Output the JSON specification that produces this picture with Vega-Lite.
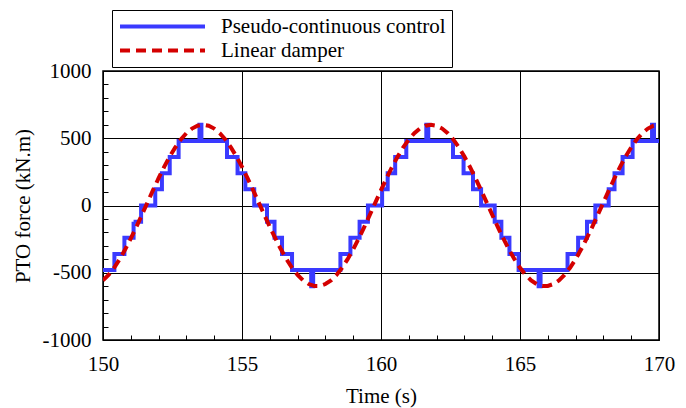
{
  "$schema": "https://vega.github.io/schema/vega-lite/v6.json",
  "width": 556,
  "height": 269,
  "autosize": {"type": "none"},
  "padding": {"left": 103, "top": 71, "right": 27, "bottom": 68},
  "background": "white",
  "config": {
    "font": "Liberation Serif, Times New Roman, DejaVu Serif, serif",
    "view": {"stroke": "black", "strokeWidth": 1.5},
    "axis": {
      "domain": false,
      "labelFont": "Liberation Serif, Times New Roman, DejaVu Serif, serif",
      "titleFont": "Liberation Serif, Times New Roman, DejaVu Serif, serif",
      "labelFontSize": 21,
      "titleFontSize": 21,
      "titleFontWeight": "normal",
      "labelColor": "black",
      "titleColor": "black",
      "tickColor": "black",
      "gridColor": "black",
      "gridWidth": 1
    }
  },
  "datasets": {
    "pseudo": [
      {"t": 150.0, "v": -480, "series": "Pseudo-continuous control"},
      {"t": 150.41, "v": -360, "series": "Pseudo-continuous control"},
      {"t": 150.77, "v": -240, "series": "Pseudo-continuous control"},
      {"t": 151.10, "v": -120, "series": "Pseudo-continuous control"},
      {"t": 151.37, "v": 0, "series": "Pseudo-continuous control"},
      {"t": 151.88, "v": 120, "series": "Pseudo-continuous control"},
      {"t": 152.12, "v": 240, "series": "Pseudo-continuous control"},
      {"t": 152.40, "v": 360, "series": "Pseudo-continuous control"},
      {"t": 152.72, "v": 480, "series": "Pseudo-continuous control"},
      {"t": 153.47, "v": 600, "series": "Pseudo-continuous control"},
      {"t": 153.54, "v": 480, "series": "Pseudo-continuous control"},
      {"t": 154.46, "v": 360, "series": "Pseudo-continuous control"},
      {"t": 154.84, "v": 240, "series": "Pseudo-continuous control"},
      {"t": 155.12, "v": 120, "series": "Pseudo-continuous control"},
      {"t": 155.44, "v": 0, "series": "Pseudo-continuous control"},
      {"t": 155.90, "v": -120, "series": "Pseudo-continuous control"},
      {"t": 156.17, "v": -240, "series": "Pseudo-continuous control"},
      {"t": 156.44, "v": -360, "series": "Pseudo-continuous control"},
      {"t": 156.80, "v": -480, "series": "Pseudo-continuous control"},
      {"t": 157.49, "v": -600, "series": "Pseudo-continuous control"},
      {"t": 157.56, "v": -480, "series": "Pseudo-continuous control"},
      {"t": 158.54, "v": -360, "series": "Pseudo-continuous control"},
      {"t": 158.90, "v": -240, "series": "Pseudo-continuous control"},
      {"t": 159.23, "v": -120, "series": "Pseudo-continuous control"},
      {"t": 159.53, "v": 0, "series": "Pseudo-continuous control"},
      {"t": 160.04, "v": 120, "series": "Pseudo-continuous control"},
      {"t": 160.24, "v": 240, "series": "Pseudo-continuous control"},
      {"t": 160.51, "v": 360, "series": "Pseudo-continuous control"},
      {"t": 160.91, "v": 480, "series": "Pseudo-continuous control"},
      {"t": 161.63, "v": 600, "series": "Pseudo-continuous control"},
      {"t": 161.70, "v": 480, "series": "Pseudo-continuous control"},
      {"t": 162.59, "v": 360, "series": "Pseudo-continuous control"},
      {"t": 162.97, "v": 240, "series": "Pseudo-continuous control"},
      {"t": 163.31, "v": 120, "series": "Pseudo-continuous control"},
      {"t": 163.60, "v": 0, "series": "Pseudo-continuous control"},
      {"t": 164.09, "v": -120, "series": "Pseudo-continuous control"},
      {"t": 164.33, "v": -240, "series": "Pseudo-continuous control"},
      {"t": 164.62, "v": -360, "series": "Pseudo-continuous control"},
      {"t": 164.95, "v": -480, "series": "Pseudo-continuous control"},
      {"t": 165.67, "v": -600, "series": "Pseudo-continuous control"},
      {"t": 165.74, "v": -480, "series": "Pseudo-continuous control"},
      {"t": 166.71, "v": -360, "series": "Pseudo-continuous control"},
      {"t": 167.09, "v": -240, "series": "Pseudo-continuous control"},
      {"t": 167.41, "v": -120, "series": "Pseudo-continuous control"},
      {"t": 167.71, "v": 0, "series": "Pseudo-continuous control"},
      {"t": 168.19, "v": 120, "series": "Pseudo-continuous control"},
      {"t": 168.40, "v": 240, "series": "Pseudo-continuous control"},
      {"t": 168.69, "v": 360, "series": "Pseudo-continuous control"},
      {"t": 169.05, "v": 480, "series": "Pseudo-continuous control"},
      {"t": 169.75, "v": 600, "series": "Pseudo-continuous control"},
      {"t": 169.82, "v": 480, "series": "Pseudo-continuous control"},
      {"t": 170.0, "v": 480, "series": "Pseudo-continuous control"}
    ],
    "damper": [
      {"t": 150.0, "v": -557, "series": "Linear damper"},
      {"t": 150.2, "v": -516, "series": "Linear damper"},
      {"t": 150.4, "v": -463, "series": "Linear damper"},
      {"t": 150.6, "v": -399, "series": "Linear damper"},
      {"t": 150.8, "v": -326, "series": "Linear damper"},
      {"t": 151.0, "v": -245, "series": "Linear damper"},
      {"t": 151.2, "v": -159, "series": "Linear damper"},
      {"t": 151.4, "v": -69, "series": "Linear damper"},
      {"t": 151.6, "v": 23, "series": "Linear damper"},
      {"t": 151.8, "v": 114, "series": "Linear damper"},
      {"t": 152.0, "v": 203, "series": "Linear damper"},
      {"t": 152.2, "v": 287, "series": "Linear damper"},
      {"t": 152.4, "v": 364, "series": "Linear damper"},
      {"t": 152.6, "v": 432, "series": "Linear damper"},
      {"t": 152.8, "v": 491, "series": "Linear damper"},
      {"t": 153.0, "v": 538, "series": "Linear damper"},
      {"t": 153.2, "v": 572, "series": "Linear damper"},
      {"t": 153.4, "v": 593, "series": "Linear damper"},
      {"t": 153.6, "v": 600, "series": "Linear damper"},
      {"t": 153.8, "v": 593, "series": "Linear damper"},
      {"t": 154.0, "v": 572, "series": "Linear damper"},
      {"t": 154.2, "v": 538, "series": "Linear damper"},
      {"t": 154.4, "v": 491, "series": "Linear damper"},
      {"t": 154.6, "v": 432, "series": "Linear damper"},
      {"t": 154.8, "v": 364, "series": "Linear damper"},
      {"t": 155.0, "v": 287, "series": "Linear damper"},
      {"t": 155.2, "v": 203, "series": "Linear damper"},
      {"t": 155.4, "v": 114, "series": "Linear damper"},
      {"t": 155.6, "v": 23, "series": "Linear damper"},
      {"t": 155.8, "v": -69, "series": "Linear damper"},
      {"t": 156.0, "v": -159, "series": "Linear damper"},
      {"t": 156.2, "v": -245, "series": "Linear damper"},
      {"t": 156.4, "v": -326, "series": "Linear damper"},
      {"t": 156.6, "v": -399, "series": "Linear damper"},
      {"t": 156.8, "v": -463, "series": "Linear damper"},
      {"t": 157.0, "v": -516, "series": "Linear damper"},
      {"t": 157.2, "v": -557, "series": "Linear damper"},
      {"t": 157.4, "v": -584, "series": "Linear damper"},
      {"t": 157.6, "v": -598, "series": "Linear damper"},
      {"t": 157.8, "v": -598, "series": "Linear damper"},
      {"t": 158.0, "v": -584, "series": "Linear damper"},
      {"t": 158.2, "v": -557, "series": "Linear damper"},
      {"t": 158.4, "v": -516, "series": "Linear damper"},
      {"t": 158.6, "v": -463, "series": "Linear damper"},
      {"t": 158.8, "v": -399, "series": "Linear damper"},
      {"t": 159.0, "v": -326, "series": "Linear damper"},
      {"t": 159.2, "v": -245, "series": "Linear damper"},
      {"t": 159.4, "v": -159, "series": "Linear damper"},
      {"t": 159.6, "v": -69, "series": "Linear damper"},
      {"t": 159.8, "v": 23, "series": "Linear damper"},
      {"t": 160.0, "v": 114, "series": "Linear damper"},
      {"t": 160.2, "v": 203, "series": "Linear damper"},
      {"t": 160.4, "v": 287, "series": "Linear damper"},
      {"t": 160.6, "v": 364, "series": "Linear damper"},
      {"t": 160.8, "v": 432, "series": "Linear damper"},
      {"t": 161.0, "v": 491, "series": "Linear damper"},
      {"t": 161.2, "v": 538, "series": "Linear damper"},
      {"t": 161.4, "v": 572, "series": "Linear damper"},
      {"t": 161.6, "v": 593, "series": "Linear damper"},
      {"t": 161.8, "v": 600, "series": "Linear damper"},
      {"t": 162.0, "v": 593, "series": "Linear damper"},
      {"t": 162.2, "v": 572, "series": "Linear damper"},
      {"t": 162.4, "v": 538, "series": "Linear damper"},
      {"t": 162.6, "v": 491, "series": "Linear damper"},
      {"t": 162.8, "v": 432, "series": "Linear damper"},
      {"t": 163.0, "v": 364, "series": "Linear damper"},
      {"t": 163.2, "v": 287, "series": "Linear damper"},
      {"t": 163.4, "v": 203, "series": "Linear damper"},
      {"t": 163.6, "v": 114, "series": "Linear damper"},
      {"t": 163.8, "v": 23, "series": "Linear damper"},
      {"t": 164.0, "v": -69, "series": "Linear damper"},
      {"t": 164.2, "v": -159, "series": "Linear damper"},
      {"t": 164.4, "v": -245, "series": "Linear damper"},
      {"t": 164.6, "v": -326, "series": "Linear damper"},
      {"t": 164.8, "v": -399, "series": "Linear damper"},
      {"t": 165.0, "v": -463, "series": "Linear damper"},
      {"t": 165.2, "v": -516, "series": "Linear damper"},
      {"t": 165.4, "v": -557, "series": "Linear damper"},
      {"t": 165.6, "v": -584, "series": "Linear damper"},
      {"t": 165.8, "v": -598, "series": "Linear damper"},
      {"t": 166.0, "v": -598, "series": "Linear damper"},
      {"t": 166.2, "v": -584, "series": "Linear damper"},
      {"t": 166.4, "v": -557, "series": "Linear damper"},
      {"t": 166.6, "v": -516, "series": "Linear damper"},
      {"t": 166.8, "v": -463, "series": "Linear damper"},
      {"t": 167.0, "v": -399, "series": "Linear damper"},
      {"t": 167.2, "v": -326, "series": "Linear damper"},
      {"t": 167.4, "v": -245, "series": "Linear damper"},
      {"t": 167.6, "v": -159, "series": "Linear damper"},
      {"t": 167.8, "v": -69, "series": "Linear damper"},
      {"t": 168.0, "v": 23, "series": "Linear damper"},
      {"t": 168.2, "v": 114, "series": "Linear damper"},
      {"t": 168.4, "v": 203, "series": "Linear damper"},
      {"t": 168.6, "v": 287, "series": "Linear damper"},
      {"t": 168.8, "v": 364, "series": "Linear damper"},
      {"t": 169.0, "v": 432, "series": "Linear damper"},
      {"t": 169.2, "v": 491, "series": "Linear damper"},
      {"t": 169.4, "v": 538, "series": "Linear damper"},
      {"t": 169.6, "v": 572, "series": "Linear damper"},
      {"t": 169.8, "v": 593, "series": "Linear damper"},
      {"t": 170.0, "v": 600, "series": "Linear damper"}
    ]
  },
  "encoding": {
    "x": {
      "field": "t",
      "type": "quantitative",
      "scale": {"domain": [150, 170], "nice": false, "zero": false},
      "axis": {
        "title": "Time (s)",
        "values": [150,151,152,153,154,155,156,157,158,159,160,161,162,163,164,165,166,167,168,169,170],
        "labelExpr": "datum.value % 5 === 0 ? '' + datum.value : ''",
        "labelFlush": false,
        "labelOverlap": false,
        "tickSize": -5,
        "tickWidth": 1,
        "grid": true,
        "gridOpacity": {"condition": {"test": "datum.value % 5 === 0", "value": 1}, "value": 0},
        "labelPadding": 18,
        "titlePadding": 11
      }
    },
    "y": {
      "field": "v",
      "type": "quantitative",
      "scale": {"domain": [-1000, 1000], "nice": false, "zero": false},
      "axis": {
        "title": "PTO force (kN.m)",
        "values": [-1000,-900,-800,-700,-600,-500,-400,-300,-200,-100,0,100,200,300,400,500,600,700,800,900,1000],
        "labelExpr": "datum.value % 500 === 0 ? '' + datum.value : ''",
        "labelFlush": false,
        "labelOverlap": false,
        "tickSize": -5,
        "tickWidth": 1,
        "grid": true,
        "gridOpacity": {"condition": {"test": "datum.value % 500 === 0", "value": 1}, "value": 0},
        "labelPadding": 17,
        "titlePadding": 9
      }
    },
    "color": {
      "field": "series",
      "type": "nominal",
      "scale": {"domain": ["Pseudo-continuous control", "Linear damper"], "range": ["#3a3aff", "#d40000"]},
      "legend": {
        "title": null,
        "orient": "none",
        "legendX": 9,
        "legendY": -61,
        "symbolType": "stroke",
        "symbolSize": 7225,
        "symbolStrokeWidth": 4,
        "clipHeight": 21,
        "labelFont": "Liberation Serif, Times New Roman, DejaVu Serif, serif",
        "labelFontSize": 21,
        "labelColor": "black",
        "labelOffset": 14,
        "labelLimit": 500,
        "strokeColor": "black",
        "fillColor": "white",
        "padding": 6,
        "rowPadding": 2
      }
    },
    "strokeDash": {
      "field": "series",
      "type": "nominal",
      "scale": {"domain": ["Pseudo-continuous control", "Linear damper"], "range": [[1, 0], [10, 6]]},
      "legend": {
        "title": null,
        "orient": "none",
        "legendX": 9,
        "legendY": -61,
        "symbolType": "stroke",
        "symbolSize": 7225,
        "symbolStrokeWidth": 4,
        "clipHeight": 21,
        "labelFont": "Liberation Serif, Times New Roman, DejaVu Serif, serif",
        "labelFontSize": 21,
        "labelColor": "black",
        "labelOffset": 14,
        "labelLimit": 500,
        "strokeColor": "black",
        "fillColor": "white",
        "padding": 6,
        "rowPadding": 2
      }
    }
  },
  "layer": [
    {
      "data": {"name": "pseudo"},
      "mark": {"type": "line", "interpolate": "step-after", "strokeWidth": 4, "clip": true}
    },
    {
      "data": {"name": "damper"},
      "mark": {"type": "line", "strokeWidth": 4, "clip": true}
    }
  ]
}
